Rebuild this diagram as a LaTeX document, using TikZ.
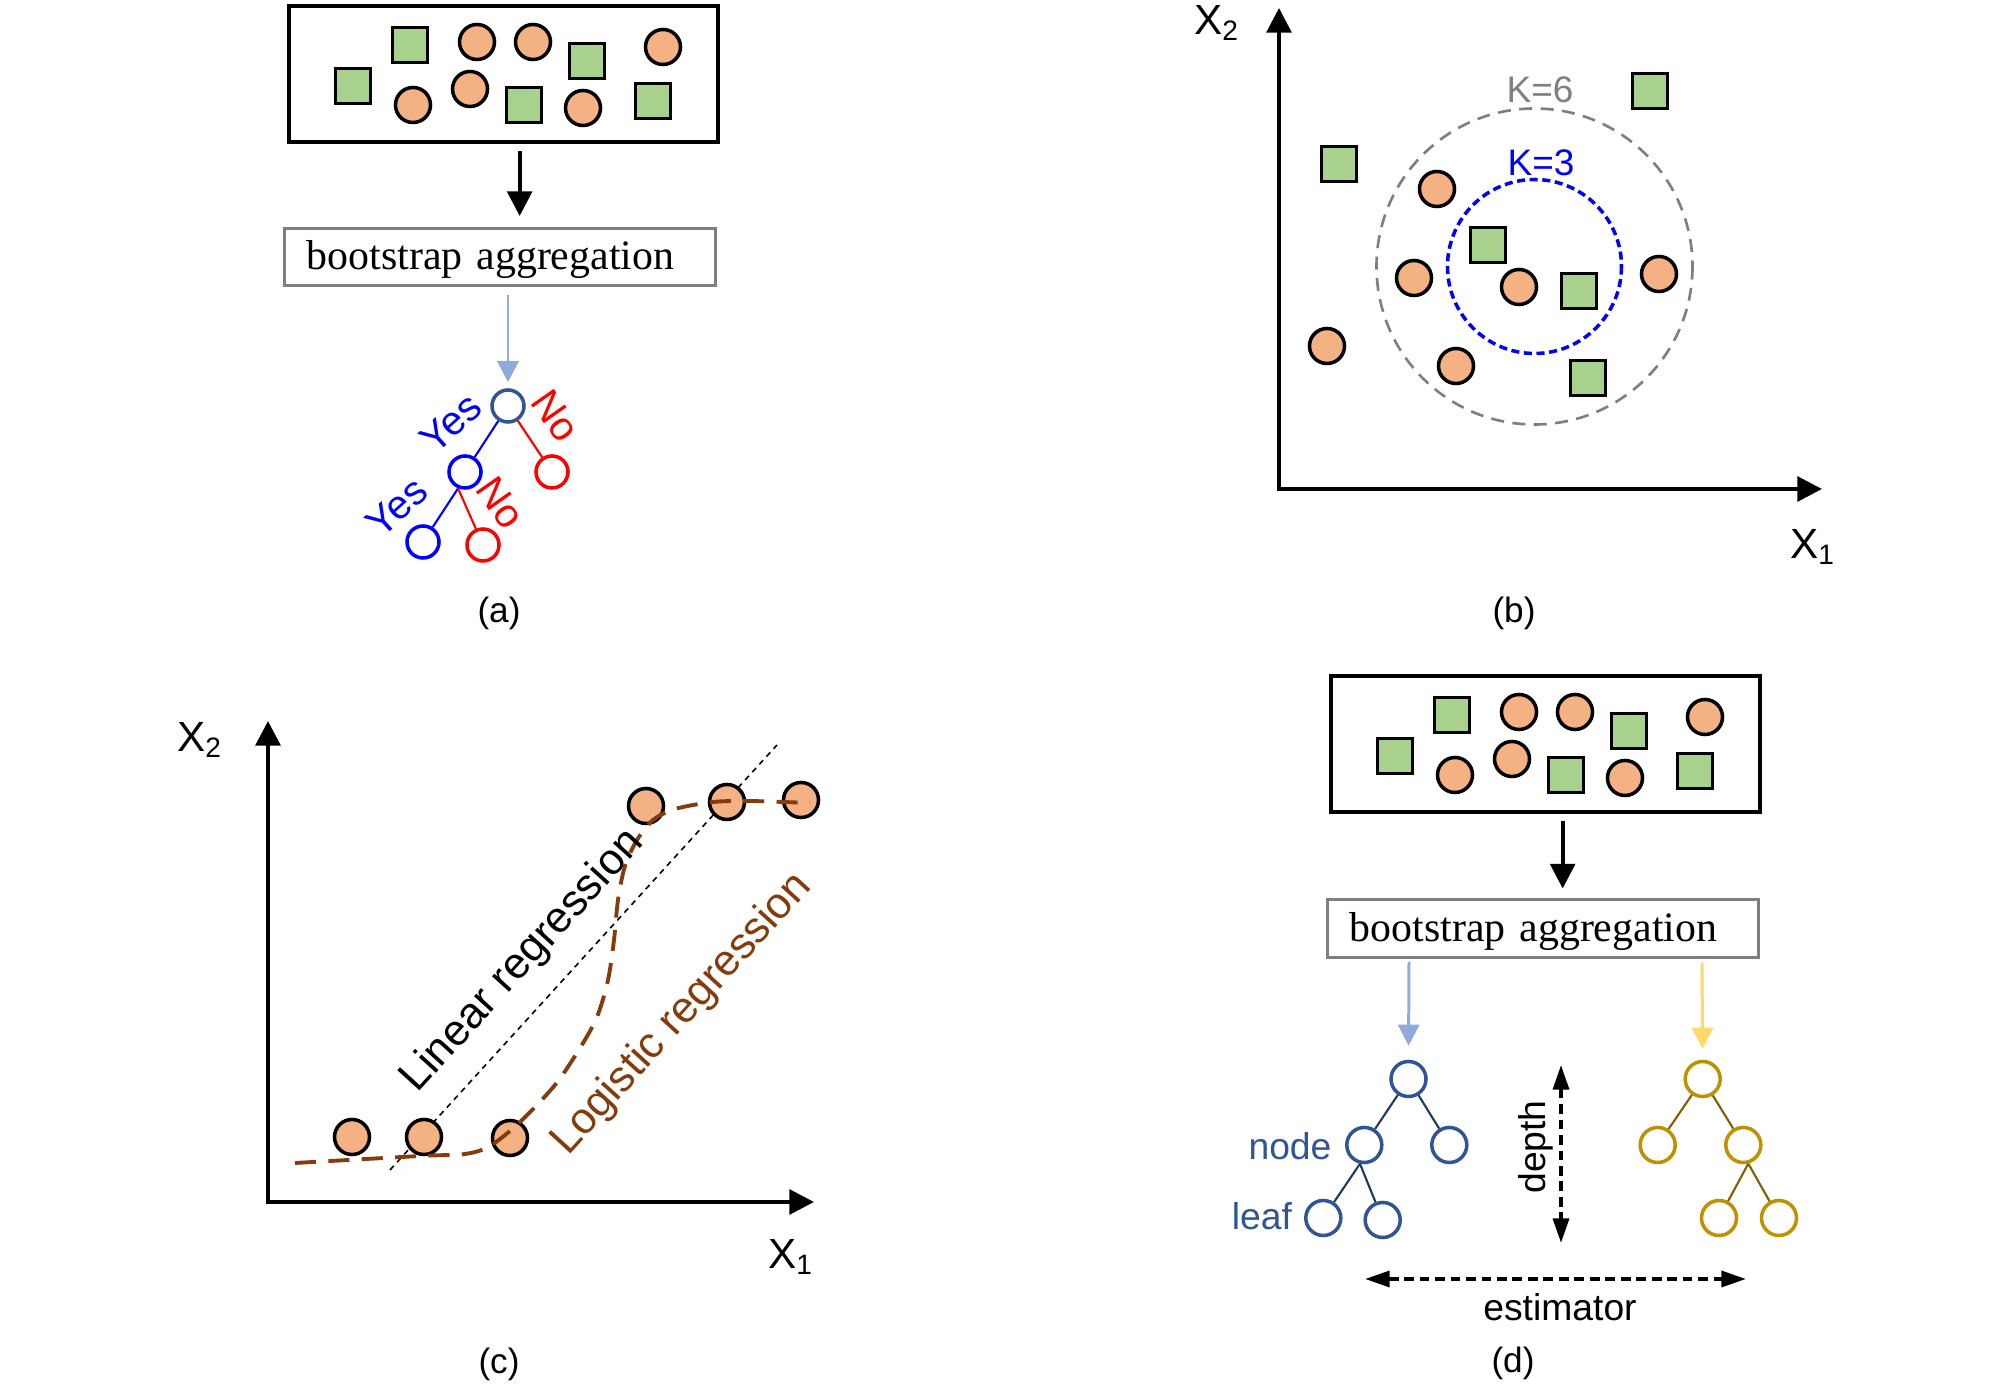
\documentclass[tikz,border=0pt]{standalone}
\usepackage{fontspec}
\setmainfont{Liberation Serif}
\setsansfont{Liberation Sans}
\usetikzlibrary{arrows.meta}

\definecolor{sqgreen}{HTML}{A9D18E}
\definecolor{ballorange}{HTML}{F4B183}
\definecolor{boxgray}{HTML}{7F7F7F}
\definecolor{lightblue}{HTML}{8FAADC}
\definecolor{lightgold}{HTML}{FFD966}
\definecolor{treeblue}{HTML}{2F5597}
\definecolor{treenavy}{HTML}{203864}
\definecolor{treegold}{HTML}{BF9000}
\definecolor{treebrown}{HTML}{7F6000}
\definecolor{logbrown}{HTML}{843C0C}

% the ten samples inside a data box, relative to its top left corner
\newcommand{\bagsamples}[1]{%
  \foreach \dx/\dy [count=\i] in {66/82,123/41,300/57,237/101,366/97}
    \node[sq] (#1sq\i) at (\dx,\dy) {};
  \foreach \dx/\dy [count=\i] in {190/38,246/38,376/43,126/101,183/85,296/104}
    \node[ball] (#1ball\i) at (\dx,\dy) {};
}

\begin{document}
\begin{tikzpicture}[x=0.01cm,y=-0.01cm,
    sq/.style={draw,line width=1pt,fill=sqgreen,minimum size=0.35cm,inner sep=0pt},
    ball/.style={circle,draw,line width=1pt,fill=ballorange,minimum size=0.35cm,inner sep=0pt},
    bagbox/.style={draw,line width=1.15pt,minimum width=4.29cm,minimum height=1.36cm,anchor=north west,inner sep=0pt},
    aggbox/.style={draw=boxgray,line width=0.85pt,minimum height=0.57cm,text width=3.86cm,align=left,
                   text height=0.27cm,text depth=0.01cm,
                   inner xsep=0.22cm,inner ysep=0pt,font=\fontsize{11.9}{13}\selectfont},
    flowarrow/.style={-{Triangle[width=7pt,length=7pt]},line width=1.15pt},
    feedarrow/.style={-{Triangle[width=6pt,length=6pt]},line width=0.85pt},
    axisline/.style={{Triangle[width=7pt,length=7pt]}-{Triangle[width=7pt,length=7pt]},line width=1.15pt},
    spanarrow/.style={{Triangle[width=4.5pt,length=7pt]}-{Triangle[width=4.5pt,length=7pt]},
                      line width=1.1pt,dash pattern=on 2.8pt off 1.6pt},
    lbl/.style={font=\sffamily\fontsize{#1}{#1}\selectfont,inner sep=0pt},
    leafnode/.style={circle,draw,line width=1pt,minimum size=0.32cm,inner sep=0pt},
    dnode/.style={circle,draw,line width=1pt,minimum size=0.35cm,inner sep=0pt},
    twig/.style={line width=0.6pt}]

  \useasboundingbox (0,0) rectangle (2008,1386);

  % (a) bagging with one tree
  \node[bagbox] (setA) at (287,4) {};
  \begin{scope}[shift={(287,4)}]
    \bagsamples{a}
  \end{scope}
  \node[aggbox] (aggA) at (500,257) {bootstrap aggregation};
  \coordinate (aflow) at ([xshift=0.16cm,yshift=-0.07cm]setA.south);
  \draw[flowarrow,shorten >=0.11cm] (aflow) -- (aflow |- aggA.north);

  \node[leafnode,draw=treeblue] (aroot) at (508,406) {};
  \node[leafnode,draw=blue] (ayes) at (465,472) {};
  \node[leafnode,draw=red] (ano) at (552,472) {};
  \node[leafnode,draw=blue] (ayesyes) at (423,542) {};
  \node[leafnode,draw=red] (ayesno) at (483,545) {};
  \coordinate (afeed) at (508,295);
  \draw[feedarrow,lightblue,shorten >=0.06cm] (afeed) -- (aroot.north);
  \draw[twig,blue] (aroot) -- (ayes);
  \draw[twig,red] (aroot) -- (ano);
  \draw[twig,blue] (ayes.-113) -- (ayesyes);
  \draw[twig,red] (ayes.-113) -- (ayesno);
  \node[lbl=11.5,blue,rotate=42] (ayeslab) at (451,423) {Yes};
  \node[lbl=11.5,red,rotate=-55] (anolab) at (556,416) {No};
  \node[lbl=11.5,red,rotate=-55] (ayesnolab) at (501,503) {No};
  \node[lbl=11.5,blue,rotate=42] (ayesyeslab) at (397,507) {Yes};
  \node[lbl=10] (capA) at (499,613) {(a)};

  % (b) k nearest neighbours
  \coordinate (borigin) at (1279,489);
  \coordinate (btop) at (1279,8);
  \coordinate (bright) at (1822,489);
  \draw[axisline] (btop) -- (borigin) -- (bright);
  \node[lbl=12] (bx2) at (1217,23) {X\textsubscript{2}};
  \node[lbl=12] (bx1) at (1813,547) {X\textsubscript{1}};
  \coordinate (bcenter) at (1534.5,266.5);
  \draw[boxgray,line width=0.75pt,dash pattern=on 3.7pt off 2.4pt] (bcenter) circle[radius=158];
  \draw[blue,line width=1pt,dash pattern=on 2.3pt off 1.3pt] (bcenter) circle[radius=87];
  \node[lbl=10.5,text=boxgray] (k6) at (1540,90) {K=6};
  \node[lbl=10.5,blue] (k3) at (1541,163) {K=3};
  \foreach \x/\y [count=\i] in {1339/164,1650/91,1488/245,1579/291,1588/378}
    \node[sq] (bsq\i) at (\x,\y) {};
  \foreach \x/\y [count=\i] in {1437/189,1414/278,1519/287,1327/346,1456/366,1659/274}
    \node[ball] (bball\i) at (\x,\y) {};
  \node[lbl=10] (capB) at (1514,613) {(b)};

  % (c) linear vs logistic regression
  \coordinate (corigin) at (268,1202);
  \coordinate (ctop) at (268,721);
  \coordinate (cright) at (814,1202);
  \draw[axisline] (ctop) -- (corigin) -- (cright);
  \node[lbl=12] (cx2) at (200,740) {X\textsubscript{2}};
  \node[lbl=12] (cx1) at (791,1257) {X\textsubscript{1}};
  \coordinate (linlo) at (390,1170);
  \coordinate (linhi) at (777,745);
  \draw[line width=0.45pt,dash pattern=on 1.6pt off 1.4pt] (linlo) -- (linhi);
  \foreach \x/\y [count=\i] in {352/1137,424/1137,510/1138,646/806,727/802,801/800}
    \node[ball] (cball\i) at (\x,\y) {};
  \draw[logbrown,line width=1.1pt,dash pattern=on 6pt off 3.5pt] plot[smooth,tension=0.5] coordinates
    {(295,1163) (420,1156) (465,1154) (490,1146) (520,1122) (555,1085) (580,1048) (597,1017)
     (608,980) (614,940) (618,900) (625,866) (637,840) (653,820) (675,809) (713,802) (750,801) (810,803)};
  \node[lbl=12.4,rotate=47.7] (linlab) at (523,961) {Linear regression};
  \node[lbl=12.4,text=logbrown,rotate=47.7] (loglab) at (682,1014) {Logistic regression};
  \node[lbl=10] (capC) at (499,1364) {(c)};

  % (d) random forest
  \node[bagbox] (setD) at (1329,674) {};
  \begin{scope}[shift={(1329,674)}]
    \bagsamples{d}
  \end{scope}
  \node[aggbox] (aggD) at (1543,928.5) {bootstrap aggregation};
  \coordinate (dflow) at ([xshift=0.17cm,yshift=-0.07cm]setD.south);
  \draw[flowarrow,shorten >=0.1cm] (dflow) -- (dflow |- aggD.north);

  \node[dnode,draw=treeblue] (droot) at (1408.5,1079) {};
  \node[dnode,draw=treeblue] (dL) at (1364.3,1145) {};
  \node[dnode,draw=treeblue] (dR) at (1449.3,1145) {};
  \node[dnode,draw=treeblue] (dLL) at (1323.3,1218) {};
  \node[dnode,draw=treeblue] (dLR) at (1382.7,1220) {};
  \draw[twig,treenavy] (droot) -- (dL);
  \draw[twig,treenavy] (droot) -- (dR);
  \draw[twig,treenavy] (dL.-103) -- (dLL);
  \draw[twig,treenavy] (dL.-103) -- (dLR);
  \node[lbl=10.6,text=treeblue] (nodelab) at (1290,1146) {node};
  \node[lbl=10.6,text=treeblue] (leaflab) at (1262,1216) {leaf};

  \node[dnode,draw=treegold] (groot) at (1702.7,1079) {};
  \node[dnode,draw=treegold] (gL) at (1657.7,1145) {};
  \node[dnode,draw=treegold] (gR) at (1743.3,1145) {};
  \node[dnode,draw=treegold] (gRL) at (1719,1218) {};
  \node[dnode,draw=treegold] (gRR) at (1779,1218) {};
  \draw[twig,treebrown] (groot) -- (gL);
  \draw[twig,treebrown] (groot) -- (gR);
  \draw[twig,treebrown] (gR.-75) -- (gRL);
  \draw[twig,treebrown] (gR.-75) -- (gRR);

  \coordinate (dfeedL) at (1409,962);
  \coordinate (dfeedR) at (1702,963);
  \draw[feedarrow,lightblue,shorten >=0.14cm] (dfeedL) -- (droot.north);
  \draw[feedarrow,lightgold,shorten >=0.11cm] (dfeedR) -- (groot.north);

  \coordinate (depthtop) at (1561,1065);
  \coordinate (depthbot) at (1561,1243);
  \draw[spanarrow] (depthtop) -- (depthbot);
  \node[lbl=10.6,rotate=90] (depthlab) at (1536,1147) {depth};
  \coordinate (estleft) at (1365,1279);
  \coordinate (estright) at (1746,1279);
  \draw[spanarrow] (estleft) -- (estright);
  \node[lbl=10.6] (estlab) at (1560,1307) {estimator};
  \node[lbl=10] (capD) at (1513,1363) {(d)};
\end{tikzpicture}
\end{document}
